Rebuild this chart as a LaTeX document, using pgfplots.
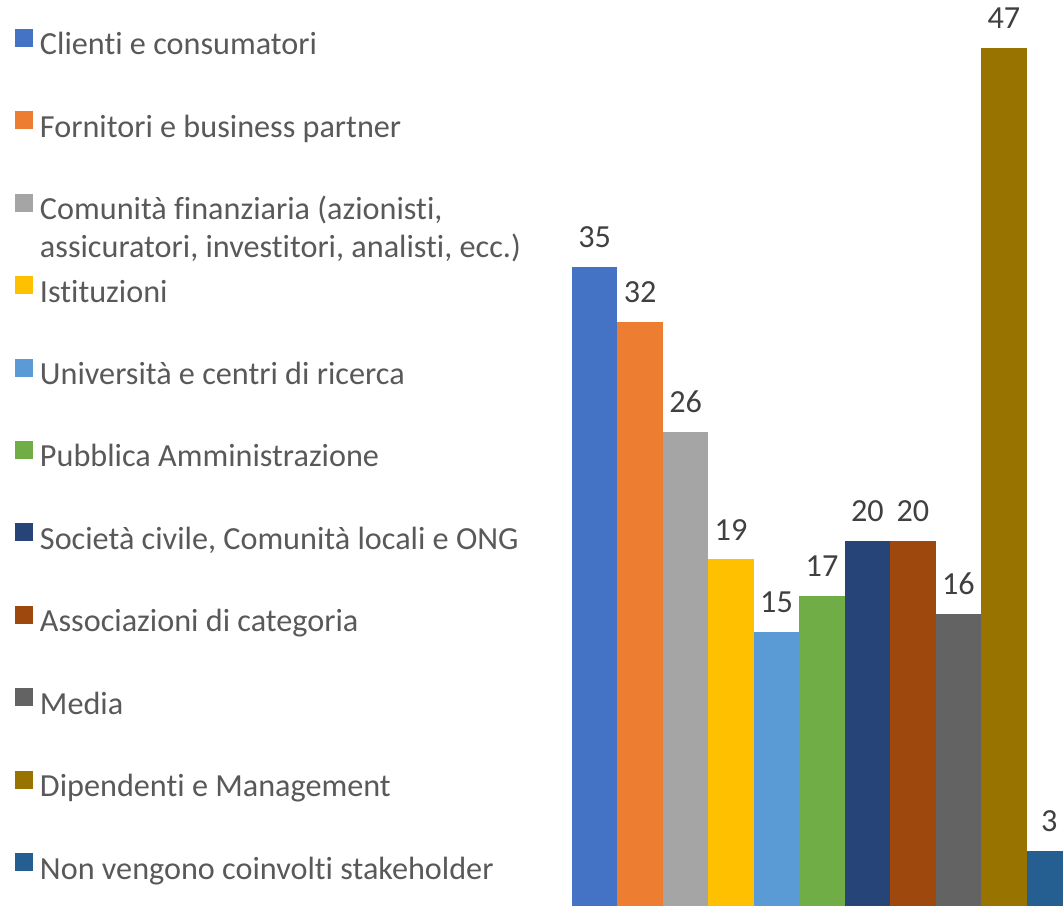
\documentclass[border=0pt]{standalone}
\usepackage{fontspec}
\setmainfont{Carlito}[Ligatures=NoCommon]
\usepackage{pgfplots}
\pgfplotsset{compat=1.18}
\definecolor{s1}{HTML}{4472C4}
\definecolor{s2}{HTML}{ED7D31}
\definecolor{s3}{HTML}{A5A5A5}
\definecolor{s4}{HTML}{FFC000}
\definecolor{s5}{HTML}{5B9BD5}
\definecolor{s6}{HTML}{70AD47}
\definecolor{s7}{HTML}{264478}
\definecolor{s8}{HTML}{9E480E}
\definecolor{s9}{HTML}{636363}
\definecolor{s10}{HTML}{997300}
\definecolor{s11}{HTML}{255E91}
\definecolor{legtext}{HTML}{595959}
\definecolor{lbltext}{HTML}{404040}

\begin{document}
\begin{tikzpicture}
\begin{axis}[
    scale only axis, width=491pt, height=906pt,
    xmin=-0.5, xmax=10.3, ymin=0, ymax=49.64,
    axis line style={draw=none}, ticks=none,
    ybar, bar width=1,
    nodes near coords,
    /pgf/number format/assume math mode=true,
    nodes near coords style={font=\fontsize{32.2}{40}\selectfont, text=lbltext,
        anchor=south, inner sep=0pt, yshift=19pt},
    legend cell align=left,
    legend style={draw=none, fill=none, at={(-1.165,0.9683)}, anchor=north west,
        inner xsep=15pt, inner ysep=0pt, row sep=48.4pt, column sep=7pt,
        nodes={inner sep=0pt, text height=24pt, text depth=8pt, text=legtext,
            font=\fontsize{32.2}{40}\selectfont}},
    bstyle/.style={fill=#1, draw=none, bar shift=0pt,
        legend image code/.code={\fill[#1] (0pt,0pt) rectangle (18pt,18pt);}},
]
\addplot[bstyle=s1] coordinates {(0,35)};
\addlegendentry{Clienti e consumatori}
\addplot[bstyle=s2] coordinates {(1,32)};
\addlegendentry{Fornitori e business partner}
\addplot[bstyle=s3] coordinates {(2,26)};
\addlegendentry{\vtop{\baselineskip=37.4pt\hbox{Comunità finanziaria (azionisti,}\hbox{assicuratori, investitori, analisti, ecc.)}}}
\addplot[bstyle=s4] coordinates {(3,19)};
\addlegendentry{Istituzioni}
\addplot[bstyle=s5] coordinates {(4,15)};
\addlegendentry{Università e centri di ricerca}
\addplot[bstyle=s6] coordinates {(5,17)};
\addlegendentry{Pubblica Amministrazione}
\addplot[bstyle=s7] coordinates {(6,20)};
\addlegendentry{Società civile, Comunità locali e ONG}
\addplot[bstyle=s8] coordinates {(7,20)};
\addlegendentry{Associazioni di categoria}
\addplot[bstyle=s9] coordinates {(8,16)};
\addlegendentry{Media}
\addplot[bstyle=s10] coordinates {(9,47)};
\addlegendentry{Dipendenti e Management}
\addplot[bstyle=s11] coordinates {(10,3)};
\addlegendentry{Non vengono coinvolti stakeholder}
\end{axis}
\end{tikzpicture}
\end{document}
